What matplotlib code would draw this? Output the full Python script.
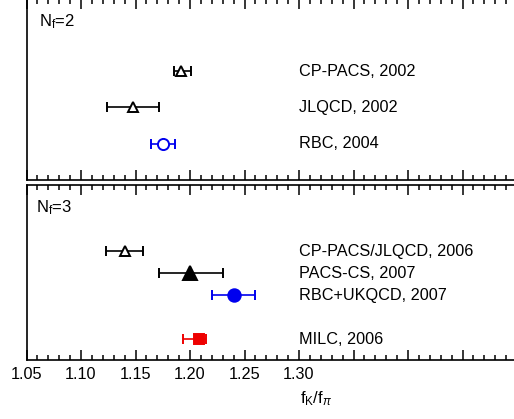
import numpy as np
import matplotlib
matplotlib.use("Agg")
import matplotlib.pyplot as plt
from matplotlib.ticker import MultipleLocator

plt.rcParams['font.family'] = ['Liberation Sans', 'DejaVu Sans']
plt.rcParams['mathtext.fontset'] = 'custom'
plt.rcParams['mathtext.rm'] = 'Liberation Sans'
plt.rcParams['mathtext.it'] = 'Liberation Sans:italic'
plt.rcParams['mathtext.sf'] = 'Liberation Sans'

# N_f = 2 results
labels2 = ['CP-PACS, 2002', 'JLQCD, 2002', 'RBC, 2004']
rows2 = [1, 2, 3]
val2 = [1.192, 1.148, 1.175]
lo2 = [1.185, 1.124, 1.164]
hi2 = [1.201, 1.172, 1.186]

# N_f = 3 results
labels3 = ['CP-PACS/JLQCD, 2006', 'PACS-CS, 2007', 'RBC+UKQCD, 2007', 'MILC, 2006']
rows3 = [1, 2, 3, 5]
val3 = [1.140, 1.200, 1.240, 1.208]
lo3 = [1.123, 1.172, 1.220, 1.194]
hi3 = [1.157, 1.230, 1.260, 1.215]

tick_vals = [1.05, 1.10, 1.15, 1.20, 1.25, 1.30, 1.35, 1.40, 1.45, 1.50]
tick_labels = ['1.05', '1.10', '1.15', '1.20', '1.25', '1.30', '', '', '', '']

# marker styles (marker, color, filled, size)
style2 = [('^', 'black', False, 7), ('^', 'black', False, 7), ('o', '#0000ee', False, 8)]
style3 = [('^', 'black', False, 7), ('^', 'black', True, 9.5),
          ('o', '#0000ee', True, 9), ('s', '#ee0000', True, 7.5)]

W, H = 514, 419
fig = plt.figure(figsize=(W / 100, H / 100), dpi=100)
left = 26.5 / W
width = 490.5 / W
# top panel pushed 1px above the figure so its top spine is cut off
ax1 = fig.add_axes([left, (H - 180) / H, width, 181.5 / H])
ax2 = fig.add_axes([left, (H - 360) / H, width, 175 / H])

def draw(ax, rows, vals, lo, hi, styles, labels):
    for r, v, l, h, st, lab in zip(rows, vals, lo, hi, styles, labels):
        m, c, filled, ms = st
        ax.errorbar([v], [r], xerr=[[v - l], [h - v]], fmt=m, color=c,
                    mfc=c if filled else 'white', mec=c, mew=1.4, ms=ms,
                    elinewidth=1.2, capsize=3.6, capthick=1.2)
        ax.text(1.30, r, lab, fontsize=11.7, va='center', ha='left')

draw(ax1, rows2, val2, lo2, hi2, style2, labels2)
draw(ax2, rows3, val3, lo3, hi3, style3, labels3)

ax1.set_ylim(3.99, -0.99)
ax2.set_ylim(5.95, -2.0)

for ax in (ax1, ax2):
    ax.set_xlim(1.05, 1.50)
    ax.set_xticks(tick_vals)
    ax.xaxis.set_minor_locator(MultipleLocator(0.01))
    ax.set_yticks([])
    ax.tick_params(axis='x', which='both', direction='in', top=True, bottom=True,
                   width=1.1)
    ax.tick_params(axis='x', which='major', length=7)
    ax.tick_params(axis='x', which='minor', length=3.6)
    for sp in ax.spines.values():
        sp.set_linewidth(1.2)

ax1.set_xticklabels([])
ax2.set_xticklabels(tick_labels, fontsize=11.7)
ax2.tick_params(axis='x', which='major', pad=5)

ax1.text(0.025, 0.875, r'N$_\mathrm{f}$=2', transform=ax1.transAxes, fontsize=12,
         va='center', ha='left')
ax2.text(0.02, 0.87, r'N$_\mathrm{f}$=3', transform=ax2.transAxes, fontsize=12,
         va='center', ha='left')

fig.text(316 / W, 1 - 399 / H, r'f$_\mathrm{K}$/f$_\pi$', fontsize=12,
         ha='center', va='center')

fig.savefig('out.png', dpi=100)
